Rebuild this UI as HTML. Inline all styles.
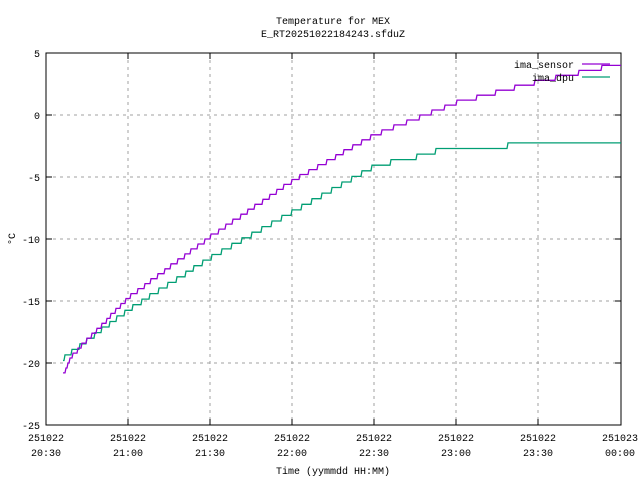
<!DOCTYPE html>
<html><head><meta charset="utf-8"><style>
body{margin:0;background:#fff}
svg{display:block;font-family:"Liberation Mono","DejaVu Sans Mono",monospace;font-size:10px}
</style></head><body>
<svg id="s" width="640" height="480" xmlns="http://www.w3.org/2000/svg">
<rect width="640" height="480" fill="#fff"/>
<g stroke="#a0a0a0" stroke-dasharray="3,4" stroke-width="1">
<line x1="46" y1="115" x2="621" y2="115"/><line x1="46" y1="177" x2="621" y2="177"/>
<line x1="46" y1="239" x2="621" y2="239"/><line x1="46" y1="301" x2="621" y2="301"/>
<line x1="46" y1="363" x2="621" y2="363"/>
<line x1="128" y1="53" x2="128" y2="425"/><line x1="210" y1="53" x2="210" y2="425"/>
<line x1="292" y1="53" x2="292" y2="425"/><line x1="374" y1="53" x2="374" y2="425"/>
<line x1="456" y1="53" x2="456" y2="425"/><line x1="538" y1="53" x2="538" y2="425"/>
</g>
<rect x="46" y="53" width="575" height="372" fill="none" stroke="#000"/>
<g stroke="#000">
<line x1="46" y1="53" x2="52" y2="53"/><line x1="621" y1="53" x2="615" y2="53"/>
<line x1="46" y1="115" x2="52" y2="115"/><line x1="621" y1="115" x2="615" y2="115"/>
<line x1="46" y1="177" x2="52" y2="177"/><line x1="621" y1="177" x2="615" y2="177"/>
<line x1="46" y1="239" x2="52" y2="239"/><line x1="621" y1="239" x2="615" y2="239"/>
<line x1="46" y1="301" x2="52" y2="301"/><line x1="621" y1="301" x2="615" y2="301"/>
<line x1="46" y1="363" x2="52" y2="363"/><line x1="621" y1="363" x2="615" y2="363"/>
<line x1="128" y1="425" x2="128" y2="419"/><line x1="128" y1="53" x2="128" y2="59"/>
<line x1="210" y1="425" x2="210" y2="419"/><line x1="210" y1="53" x2="210" y2="59"/>
<line x1="292" y1="425" x2="292" y2="419"/><line x1="292" y1="53" x2="292" y2="59"/>
<line x1="374" y1="425" x2="374" y2="419"/><line x1="374" y1="53" x2="374" y2="59"/>
<line x1="456" y1="425" x2="456" y2="419"/><line x1="456" y1="53" x2="456" y2="59"/>
<line x1="538" y1="425" x2="538" y2="419"/><line x1="538" y1="53" x2="538" y2="59"/>
</g>
<g text-anchor="end">
<text x="40" y="57">5</text><text x="40" y="119">0</text><text x="40" y="181">-5</text>
<text x="40" y="243">-10</text><text x="40" y="305">-15</text><text x="40" y="367">-20</text><text x="40" y="429">-25</text>
</g>
<g text-anchor="middle">
<text x="46" y="441">251022</text><text x="46" y="456">20:30</text>
<text x="128" y="441">251022</text><text x="128" y="456">21:00</text>
<text x="210" y="441">251022</text><text x="210" y="456">21:30</text>
<text x="292" y="441">251022</text><text x="292" y="456">22:00</text>
<text x="374" y="441">251022</text><text x="374" y="456">22:30</text>
<text x="456" y="441">251022</text><text x="456" y="456">23:00</text>
<text x="538" y="441">251022</text><text x="538" y="456">23:30</text>
<text x="620" y="441">251023</text><text x="620" y="456">00:00</text>
<text x="333" y="24">Temperature for MEX</text>
<text x="333" y="37">E_RT20251022184243.sfduZ</text>
<text x="333" y="474">Time (yymmdd HH:MM)</text>
</g>
<text transform="translate(15,239) rotate(-90)" text-anchor="middle">°C</text>
<path id="dpu" fill="none" stroke="#009e73" stroke-width="1.3"/>
<path id="sen" fill="none" stroke="#9400d3" stroke-width="1.3"/>
<g text-anchor="end">
<text x="574" y="68">ima_sensor</text><text x="574" y="81">ima_dpu</text>
</g>
<line x1="582" y1="64" x2="610" y2="64" stroke="#9400d3" stroke-width="1.3"/>
<line x1="582" y1="77" x2="610" y2="77" stroke="#009e73" stroke-width="1.3"/>
</svg>
<script>
function Y(v){return 115-v*12.4;}
function interp(pts,x){for(var i=1;i<pts.length;i++){if(x<=pts[i][0]){var a=pts[i-1],b=pts[i];return a[1]+(b[1]-a[1])*(x-a[0])/(b[0]-a[0]);}}return pts[pts.length-1][1];}
function build(pts,step,x0,x1){var d="",prev=null;for(var x=x0;x<=x1;x+=1){var v=Math.round(interp(pts,x)/step)*step;var y=Y(v).toFixed(1);if(prev===null){d="M"+x+","+y;}else if(y!==prev){d+=" L"+x+","+prev+" L"+(x+1)+","+y;}prev=y;}d+=" L"+x1+","+prev;return d;}
var sen=[[63,-20.8],[70,-19.5],[128,-14.7],[210,-9.8],[292,-5.3],[374,-1.6],[456,1.0],[538,2.7],[600,3.8],[621,3.9]];
var dpu=[[63,-19.6],[128,-15.7],[210,-11.5],[292,-7.8],[374,-4.1],[420,-3.3],[448,-2.6],[505,-2.6],[512,-2.1],[621,-2.1]];
document.getElementById("sen").setAttribute("d",build(sen,0.4,63,621));
document.getElementById("dpu").setAttribute("d",build(dpu,0.45,63,621));
</script>
</body></html>
